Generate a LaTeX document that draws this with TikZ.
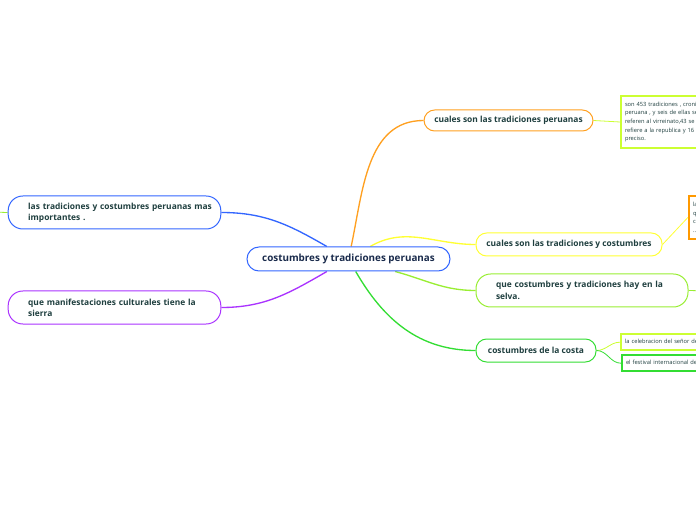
\documentclass[tikz,border=0pt]{standalone}
\usepackage{fontspec}
\setmainfont{Open Sans}
\usetikzlibrary{backgrounds}

\definecolor{mapblue}{HTML}{3366FF}
\definecolor{mappurple}{HTML}{AA33FF}
\definecolor{maporange}{HTML}{FFA020}
\definecolor{mapyellow}{HTML}{FFFF33}
\definecolor{maplime}{HTML}{99EE33}
\definecolor{mapgreen}{HTML}{33DD33}
\definecolor{mapchart}{HTML}{CCFF33}
\definecolor{deeporange}{HTML}{FF9900}
\definecolor{inktext}{HTML}{1F3F3F}
\definecolor{inknavy}{HTML}{1A2B4C}

\begin{document}
\begin{tikzpicture}[x=0.75pt, y=-0.75pt,
  topic/.style={draw=#1, line width=0.75pt, fill=white, rounded corners=8pt,
    text=inktext, font=\fontsize{6.3}{8.5}\selectfont\bfseries, inner sep=0pt,
    minimum height=17.25pt},
  wide/.style={topic=#1, rounded corners=11pt, minimum height=24.75pt,
    text width=129.5pt, align=left, inner xsep=15pt},
  note/.style={draw=#1, line width=1.5pt, fill=white, anchor=north west,
    text=inktext, font=\fontsize{4.3}{6.4}\selectfont, align=left,
    inner xsep=3pt, inner ysep=3pt, text width=100pt},
  link/.style={draw=#1, line width=1pt},
  twig/.style={draw=#1, line width=0.6pt}]
  \useasboundingbox (0,0) rectangle (696,520);
  \clip (0,0) rectangle (696,520);

  \node[topic=mapblue, rounded corners=9pt, minimum width=152.25pt, minimum height=18pt,
    text=inknavy, font=\fontsize{7.4}{9}\selectfont\bfseries] (root) at (348.5,259)
    {costumbres y tradiciones peruanas};

  \node[topic=maporange, minimum width=126.75pt, minimum height=15.75pt] (peruanas) at (508.5,120.5)
    {cuales son las tradiciones peruanas};
  \node[topic=mapyellow, minimum width=139.5pt] (costumbres) at (569,244.5)
    {cuales son las tradiciones y costumbres};
  \node[wide=maplime, text width=129pt] (selva) at (582,290.5)
    {\mbox{que costumbres y tradiciones hay en la}\\selva.};
  \node[topic=mapgreen, minimum width=90pt] (costa) at (536,350.5)
    {costumbres de la costa};

  \node[wide=mapblue] (importantes) at (114.5,212.5)
    {\mbox{las tradiciones y costumbres peruanas mas}\\importantes .};
  \node[wide=mappurple] (sierra) at (114.5,307.5)
    {\mbox{que manifestaciones culturales tiene la}\\sierra};

  \node[note=mapchart, minimum height=39pt] (cifras) at (620,95)
    {son 453 tradiciones , cronicas\\peruana , y seis de ellas se\\referen al virreinato,43 se\\refiere a la republica y 16\\preciso.};
  \node[note=deeporange, minimum height=32pt] (lista) at (688,195)
    {la\\q\\c\\...};
  \node[note=mapchart, text width=110pt, inner ysep=4pt] (senor) at (620,333)
    {la celebracion del señor de los milagros};
  \node[note=mapgreen, text width=110pt, inner ysep=4pt] (festival) at (621,354)
    {el festival internacional de la primavera};

  \coordinate (selvaend) at (710,291);
  \coordinate (importantesend) at (-10,212);

  \begin{scope}[on background layer]
    \draw[link=maporange] (root) to[out=78, in=180] (peruanas.west);
    \draw[link=mapyellow] (root) to[out=30, in=180] (costumbres.west);
    \draw[link=maplime] (root) to[out=-15, in=180] (selva.west);
    \draw[link=mapgreen] (root) to[out=-60, in=180] (costa.west);
    \draw[link=mapblue] (root) to[out=150, in=0] (importantes.east);
    \draw[link=mappurple] (root) to[out=-150, in=0] (sierra.east);

    \draw[twig=mapchart] (peruanas.east) -- (cifras.west);
    \draw[twig=mapyellow] (costumbres.east) -- (lista.west);
    \draw[twig=maplime] (selva.east) -- (selvaend);
    \draw[twig=mapchart] (costa.east) to[out=0, in=180] (senor.west);
    \draw[twig=mapgreen] (costa.east) to[out=0, in=180] (festival.west);
    \draw[twig=maplime] (importantes.west) -- (importantesend);
  \end{scope}
\end{tikzpicture}
\end{document}
